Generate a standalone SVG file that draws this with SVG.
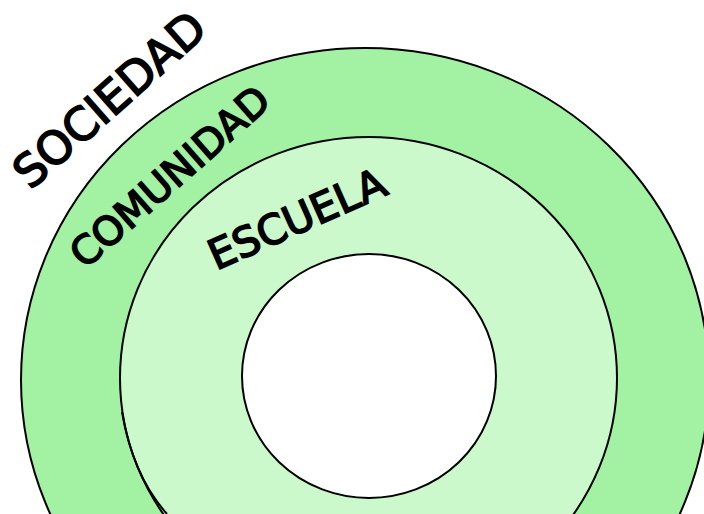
<svg xmlns="http://www.w3.org/2000/svg" width="704" height="514" viewBox="0 0 704 514">
<style>
.ring{stroke:#000;stroke-width:2}
.lbl{font-family:"DejaVu Sans","Verdana",sans-serif;fill:#000;stroke:#000;stroke-width:1.7;text-anchor:middle}
</style>
<rect width="704" height="514" fill="#fff"/>
<g id="sociedad">
<ellipse class="ring" cx="365" cy="380" rx="344" ry="332" fill="#a3f1a3"/>
<text class="lbl" font-size="45.5" transform="translate(120,111.5) rotate(-41.5)">SOCIEDAD</text>
</g>
<g id="comunidad">
<ellipse class="ring" cx="368.5" cy="378" rx="248.5" ry="241" fill="#cbf9cb"/>
<path class="ring" d="M122,412 Q133,476 167,514" fill="none"/>
<text class="lbl" font-size="39.6" transform="translate(179,187) rotate(-41.4)">COMUNIDAD</text>
</g>
<g id="escuela">
<ellipse class="ring" cx="369" cy="376" rx="127" ry="122" fill="#fff"/>
<text class="lbl" font-size="41.3" transform="translate(303,232) rotate(-24)">ESCUELA</text>
</g>
</svg>
